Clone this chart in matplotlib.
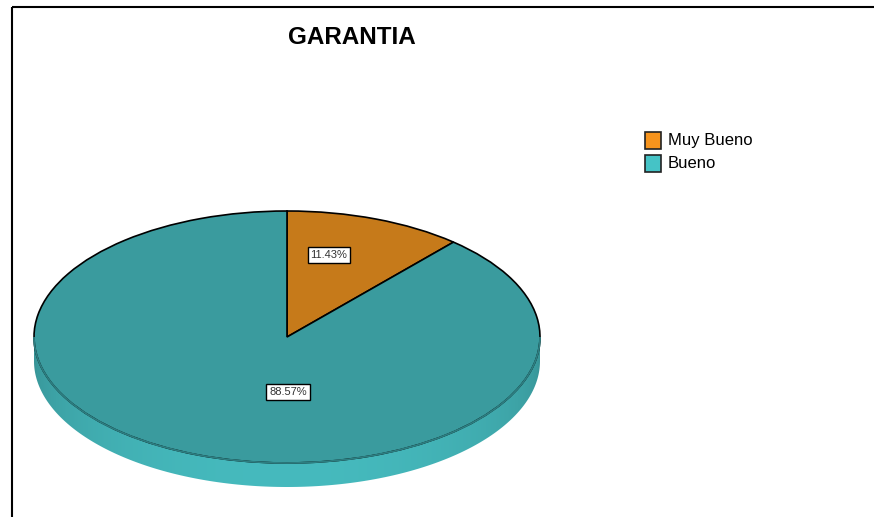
import numpy as np
import matplotlib
matplotlib.use('Agg')
import matplotlib.pyplot as plt
from matplotlib.patches import Wedge, Polygon, Rectangle, Arc
from matplotlib.transforms import Affine2D

plt.rcParams['font.family'] = ['Liberation Sans', 'DejaVu Sans']

# Datos del grafico
titulo = 'GARANTIA'
categorias = ['Muy Bueno', 'Bueno']
porcentajes = [11.43, 88.57]
colores_leyenda = ['#F7941D', '#45C3C6']
colores_cara = ['#C67A1A', '#3A9B9E']

# Geometria del pastel (en pixeles)
cx, cy = 287, 337
rx, ry = 253, 126
prof = 24
pos_etiquetas = [(329, 255), (288, 392)]

fig = plt.figure(figsize=(8.74, 5.17), dpi=100)
ax = fig.add_axes([0, 0, 1, 1])

# Marco
ax.plot([12, 874], [7, 7], color='black', lw=1.5, solid_capstyle='butt')
ax.plot([12, 12], [7, 517], color='black', lw=1.5, solid_capstyle='butt')

ax.text(352, 38, titulo, ha='center', va='center', fontsize=17.5, fontweight='bold')


def punto(ang, dy=0):
    t = np.radians(ang)
    return (cx + rx * np.cos(t), cy - ry * np.sin(t) + dy)


# Angulos de cada porcion (sentido horario desde arriba)
angulos = []
inicio = 90.0
for p in porcentajes:
    fin = inicio - p * 3.6
    angulos.append((fin, inicio))
    inicio = fin

# Degradado horizontal de la cara lateral
xs = np.linspace(cx - rx, cx + rx, 400)
brillo = 0.95 + 0.25 * np.sqrt(np.clip(1 - ((xs - cx) / rx) ** 2, 0, 1))

# Cara lateral: solo la parte frontal (180 a 360 grados)
for (a0, a1), col in zip(angulos, colores_cara):
    base = np.array(matplotlib.colors.to_rgb(col))
    img = np.clip(base[None, None, :] * brillo[None, :, None], 0, 1)
    for desp in (-360, 0, 360):
        lo = max(a0 + desp, 180)
        hi = min(a1 + desp, 360)
        if hi <= lo:
            continue
        arco = np.linspace(lo, hi, 200)
        pts = [punto(a) for a in arco] + [punto(a, prof) for a in arco[::-1]]
        lado = Polygon(pts, closed=True, facecolor='none', edgecolor='none')
        ax.add_patch(lado)
        im = ax.imshow(img, extent=(cx - rx, cx + rx, cy + ry + prof + 2, cy - 2),
                       aspect='auto', interpolation='bilinear')
        im.set_clip_path(lado)

# Cara superior
trans = Affine2D().scale(rx, -ry).translate(cx, cy) + ax.transData
for (a0, a1), col in zip(angulos, colores_cara):
    ax.add_patch(Wedge((0, 0), 1, a0, a1, facecolor=col, edgecolor='black',
                       lw=1.2, transform=trans))

# Borde frontal mas suave
ax.add_patch(Arc((cx, cy), 2 * rx, 2 * ry, theta1=0, theta2=180,
                 color='#2D7E81', lw=1.3))

# Etiquetas de porcentaje
for (x, y), p in zip(pos_etiquetas, porcentajes):
    ax.text(x, y, f'{p:.2f}%', ha='center', va='center', fontsize=8, color='#333333',
            bbox=dict(boxstyle='square,pad=0.25', facecolor='white', edgecolor='black', lw=1))

# Leyenda
for i, (cat, col) in enumerate(zip(categorias, colores_leyenda)):
    y0 = 132 + i * 23
    ax.add_patch(Rectangle((645, y0), 16, 17, facecolor=col, edgecolor='#222222', lw=1.2))
    ax.text(668, y0 + 9, cat, ha='left', va='center', fontsize=12)

ax.set_xlim(0, 874)
ax.set_ylim(517, 0)
ax.axis('off')

fig.savefig('out.png', dpi=100)
